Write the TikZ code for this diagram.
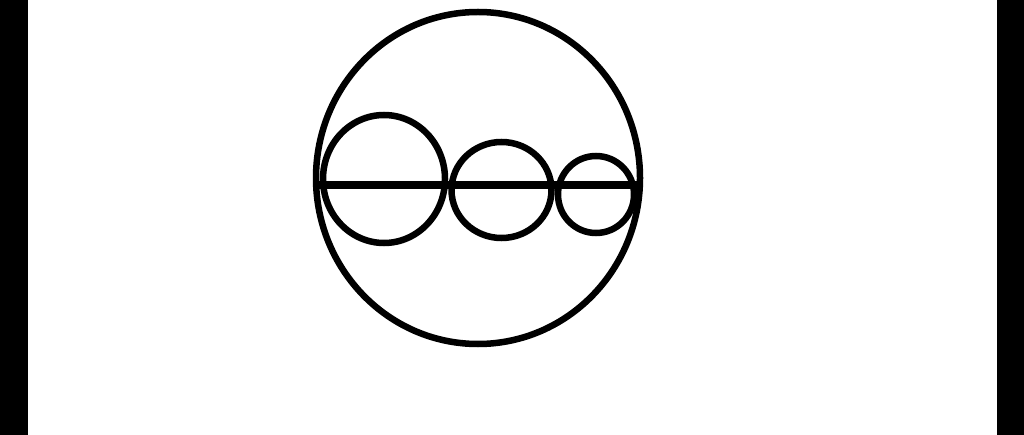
\documentclass[tikz,border=0pt]{standalone}
\begin{document}
\begin{tikzpicture}[x=1pt,y=-1pt,ring/.style={draw=black,line width=6.5pt}]
\useasboundingbox (0,0) rectangle (1024,435);
\fill[white] (0,0) rectangle (1024,435);
\fill[black] (0,0) rectangle (28,435);
\fill[black] (997,0) rectangle (1024,435);
\draw[ring] (478,178) ellipse [x radius=162, y radius=166];
\coordinate (L) at (316,185);
\coordinate (R) at (640,185);
\draw[black,line width=8pt] (L) -- (R);
\draw[ring] (384,179) ellipse [x radius=61, y radius=64];
\draw[ring] (501.5,190) ellipse [x radius=50, y radius=48];
\draw[ring] (596,194.5) ellipse [x radius=38, y radius=38.5];
\end{tikzpicture}
\end{document}
